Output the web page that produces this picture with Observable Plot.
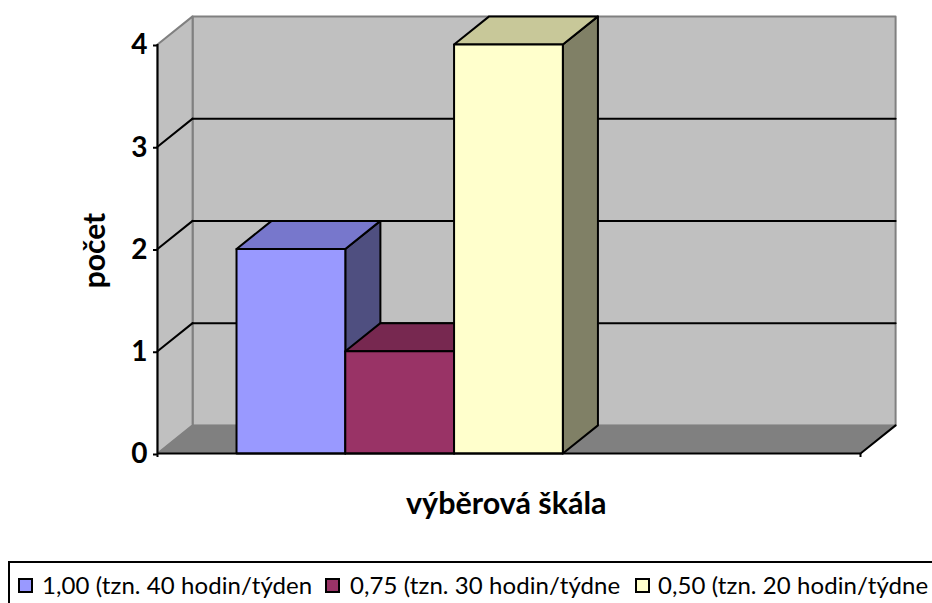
<!DOCTYPE html>
<html><head><meta charset="utf-8">
<script src="https://cdn.jsdelivr.net/npm/d3@7"></script>
<script src="https://cdn.jsdelivr.net/npm/@observablehq/plot@0.6"></script>
<style>
html,body{margin:0;padding:0;background:#fff;overflow:hidden;width:932px;height:603px}
#chart svg{display:block}
#legend{position:absolute;left:8px;top:561px;width:940px;height:60px;border:2px solid #000;box-sizing:border-box;font:24px Lato,sans-serif;color:#000}
#legend span{position:absolute;top:7px;line-height:30px;white-space:nowrap;letter-spacing:0.08px}
#legend i{position:absolute;top:15px;width:15px;height:15px;border:2px solid #000;box-sizing:border-box}
</style></head><body>
<div id="chart"></div><div id="legend"></div>
<script>
const categories = ["1,00 (tzn. 40 hodin/týden","0,75 (tzn. 30 hodin/týdne","0,50 (tzn. 20 hodin/týdne"];
const values = [2,1,4];
const faceColors = ["#9999FF","#993366","#FFFFCC"];
const topColors = ["#7777CC","#772850","#C8C899"];
const sideColors = ["#4F4F80","#4F1F38","#808066"];
const yTicks = [0,1,2,3,4];
const gridValues = [1,2,3];
const xMax = 6.45, barStart = 0.725, barWidth = 0.998, dx = 0.322, dy = 0.275;
const font = "Lato, sans-serif";

const poly = (pts, fill, stroke, sw=2) => Plot.line(pts.concat([pts[0]]), {x:d=>d[0], y:d=>d[1], fill, stroke, strokeWidth:sw});
const seg = (a, b, stroke, sw=2) => Plot.line([a,b], {x:d=>d[0], y:d=>d[1], stroke, strokeWidth:sw});

const marks = [
  poly([[dx,dy],[xMax+dx,dy],[xMax+dx,4+dy],[dx,4+dy]], "#C0C0C0", "#808080", 2),
  poly([[0,0],[dx,dy],[dx,4+dy],[0,4]], "#C0C0C0", "#808080", 2),
  poly([[0,0],[xMax,0],[xMax+dx,dy],[dx,dy]], "#808080", "#808080", 1),
  ...gridValues.flatMap(v => [
    seg([0,v],[dx,v+dy],"#000"),
    seg([dx,v+dy],[xMax+dx,v+dy],"#000")
  ]),
  seg([xMax,0],[xMax+dx,dy],"#000")
];
values.forEach((v,i) => {
  const a = barStart+i*barWidth, b = a+barWidth;
  marks.push(
    poly([[b,0],[b+dx,dy],[b+dx,v+dy],[b,v]], sideColors[i], "#000"),
    poly([[a,v],[b,v],[b+dx,v+dy],[a+dx,v+dy]], topColors[i], "#000"),
    poly([[a,0],[b,0],[b,v],[a,v]], faceColors[i], "#000")
  );
});
marks.push(
  Plot.ruleY([0],{stroke:"#000",strokeWidth:2}),
  Plot.ruleX([0],{y1:0,y2:4,stroke:"#000",strokeWidth:2}),
  Plot.axisY({ticks:yTicks,tickSize:4,tickPadding:6,label:null,tickFormat:d3.format("d"),fontSize:28,fontWeight:"bold",dy:1,stroke:"#000",strokeWidth:2,fill:"#000"}),
  Plot.axisX({ticks:[0,xMax],tickSize:4,tickFormat:()=>"",label:null,stroke:"#000",strokeWidth:2}),
  Plot.text(["počet"],{x:-0.57,y:1.985,rotate:-90,fontSize:30,fontWeight:"bold",fill:"#000"}),
  Plot.text(["výběrová škála"],{x:3.2,y:-0.5,fontSize:30.5,fontWeight:"bold",fill:"#000"})
);

const chart = Plot.plot({
  width:932,height:561,
  marginLeft:157,marginRight:72,marginTop:44,marginBottom:108,
  style:{fontFamily:font,background:"transparent",overflow:"visible"},
  x:{domain:[0,xMax],axis:null},
  y:{domain:[0,4],axis:null},
  marks
});
document.getElementById("chart").append(chart);

const lg = document.getElementById("legend");
const swX = [8,315,625], txtX = [32,340,648];
categories.forEach((c,i)=>{
  const sw=document.createElement("i");sw.style.left=swX[i]+"px";sw.style.background=faceColors[i];lg.append(sw);
  const s=document.createElement("span");s.style.left=txtX[i]+"px";s.textContent=c;lg.append(s);
});
</script></body></html>
